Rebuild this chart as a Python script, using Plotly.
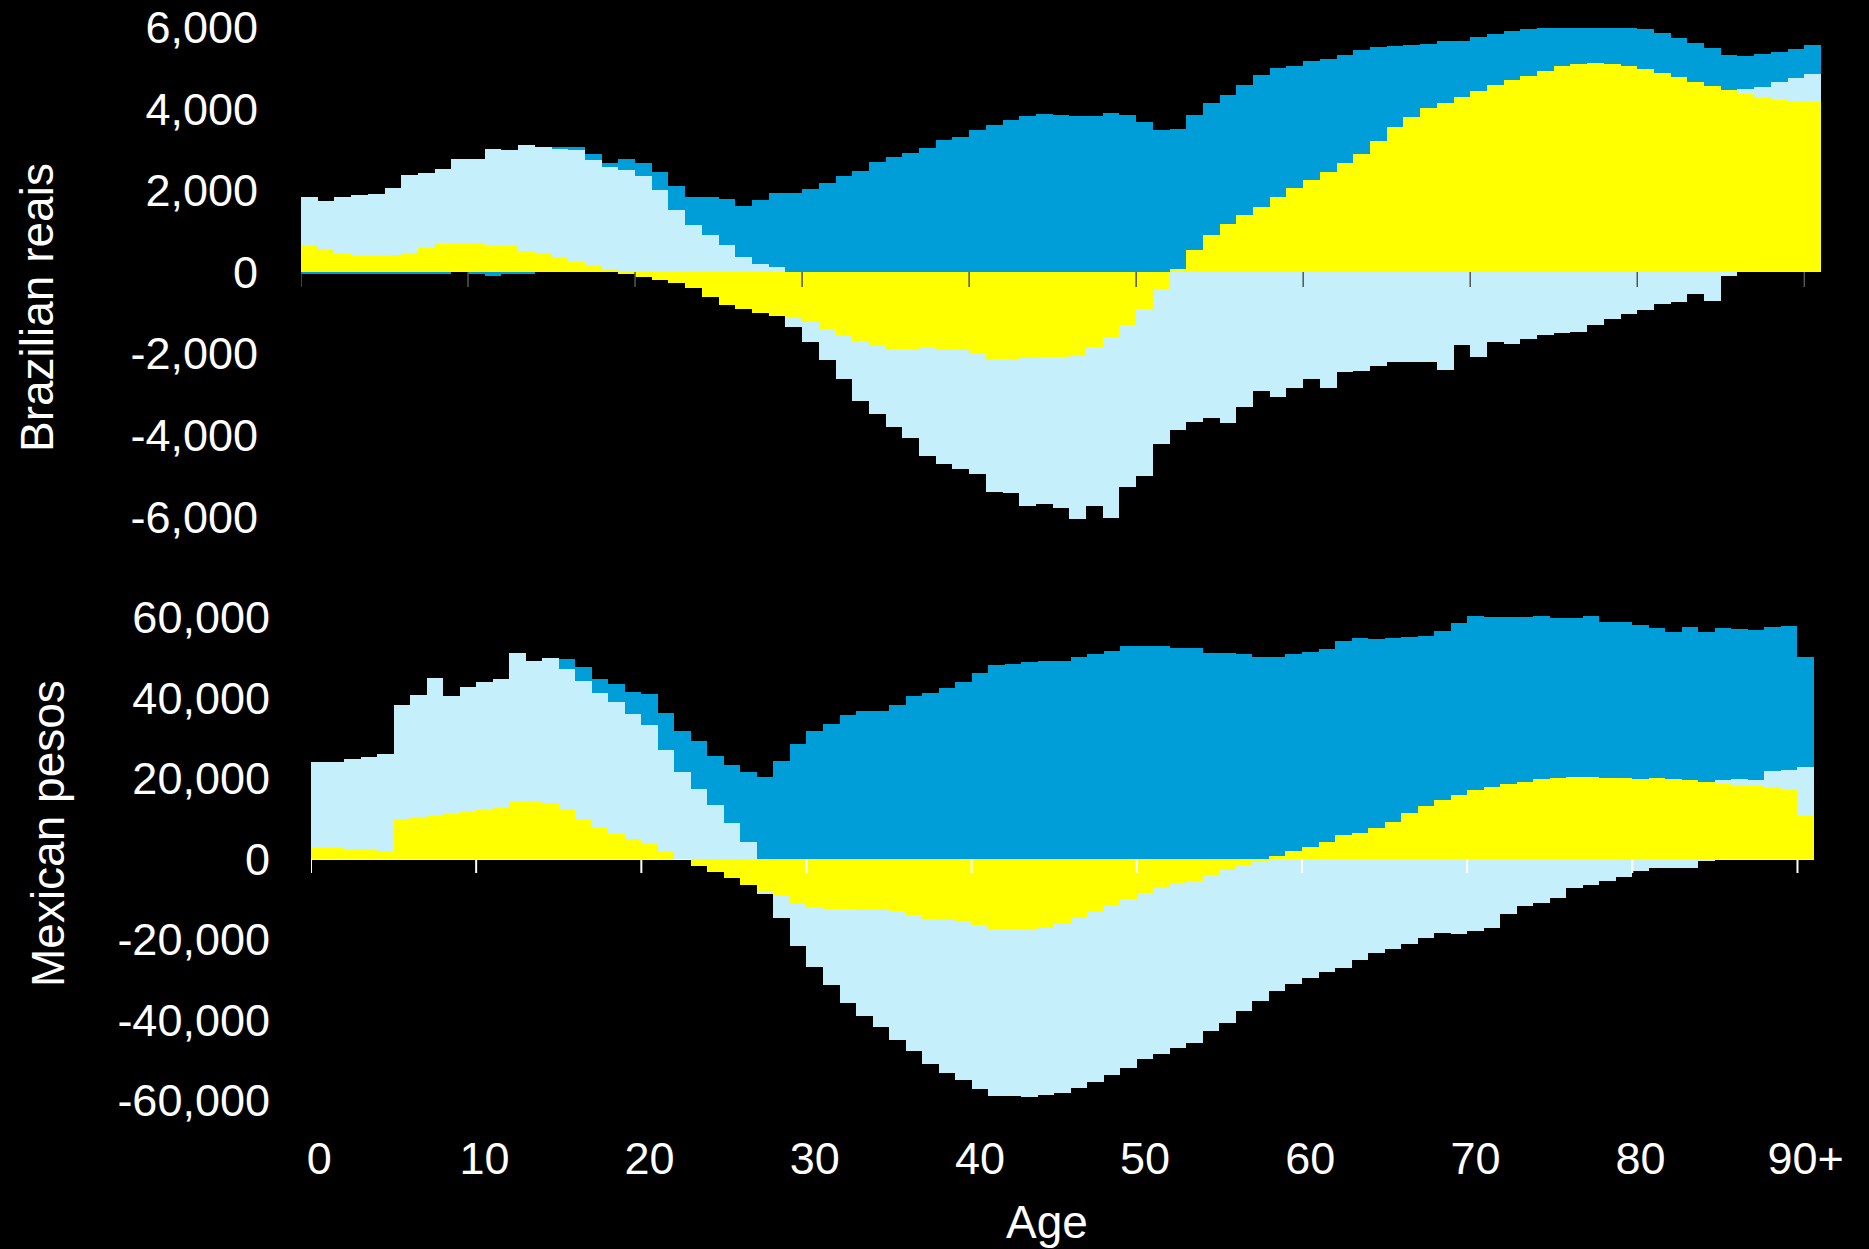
import plotly.graph_objects as go

# ---------------------------------------------------------------------------
# Data: per-capita flows by single year of age (0 ... 90+)
# ---------------------------------------------------------------------------
ages = list(range(91))
decade_ticks = list(range(0, 91, 10))
decade_labels = [str(a) for a in range(0, 90, 10)] + ["90+"]

# Brazil (reais)
br_public = [
    630, 560, 465, 395, 395, 420, 455, 595, 680, 680,
    710, 655, 630, 525, 465, 360, 235, 150, 80, -25,
    -120, -200, -270, -400, -610, -815, -910, -1005, -1085, -1120,
    -1225, -1390, -1565, -1690, -1810, -1880, -1880, -1865, -1915, -1915,
    -2005, -2120, -2125, -2100, -2085, -2090, -2055, -1845, -1595, -1305,
    -895, -405, 70, 545, 910, 1175, 1400, 1600, 1830, 2050,
    2260, 2460, 2665, 2890, 3205, 3545, 3800, 4015, 4150, 4290,
    4430, 4595, 4715, 4805, 4935, 5040, 5110, 5130, 5100, 5050,
    4970, 4885, 4770, 4655, 4560, 4470, 4375, 4290, 4220, 4185,
    4165,
]
br_private = [
    1200, 1180, 1365, 1485, 1515, 1635, 1915, 1835, 1855, 2085,
    2055, 2365, 2355, 2600, 2600, 2670, 2755, 2605, 2485, 2495,
    2345, 2020, 1525, 1140, 900, 650, 370, 185, 125, -230,
    -480, -755, -1050, -1460, -1670, -1910, -2180, -2640, -2790, -2905,
    -2950, -3270, -3280, -3640, -3610, -3685, -4010, -3885, -4425, -3965,
    -4110, -3805, -3875, -3675, -3570, -3700, -3300, -2915, -3060, -2850,
    -2625, -2835, -2450, -2425, -2300, -2205, -2195, -2195, -2405, -1785,
    -2075, -1725, -1760, -1635, -1550, -1495, -1460, -1295, -1155, -1040,
    -935, -790, -735, -545, -720, -95, 115, 255, 430, 570,
    700,
]
br_assets = [
    -25, -25, -25, -25, -25, -25, -25, -25, -25, 0,
    -55, -90, -55, -35, 0, 15, 70, 130, 95, 270,
    335, 430, 585, 700, 930, 1135, 1240, 1575, 1800, 1945,
    2030, 2170, 2345, 2485, 2685, 2820, 2905, 3045, 3245, 3310,
    3490, 3615, 3735, 3815, 3870, 3860, 3825, 3825, 3905, 3850,
    3665, 3485, 3440, 3315, 3230, 3175, 3185, 3230, 3165, 3010,
    2905, 2755, 2650, 2545, 2320, 1995, 1755, 1575, 1515, 1380,
    1330, 1235, 1180, 1145, 1050, 945, 875, 855, 885, 935,
    980, 970, 970, 965, 935, 860, 805, 795, 735, 720,
    710,
]

# Mexico (pesos)
mx_public = [
    2650, 2650, 2400, 2140, 1970, 9925, 10350, 10610, 11295, 11720,
    12235, 12575, 14285, 14460, 13860, 12065, 9580, 7615, 6330, 4960,
    3850, 1625, 0, -1625, -3165, -4790, -6500, -8300, -9155, -11295,
    -11975, -12490, -12490, -12660, -12745, -13005, -13945, -14800, -15230, -15315,
    -16425, -17450, -17450, -17365, -17025, -16170, -14715, -13260, -11720, -10010,
    -8555, -7270, -6330, -5475, -3935, -2825, -1370, -685, 770, 1970,
    3080, 4190, 5945, 6585, 7785, 9240, 11380, 13175, 14630, 15825,
    17195, 17965, 18565, 19075, 19850, 20105, 20360, 20275, 20190, 20020,
    19935, 20020, 19760, 19590, 19075, 18650, 18395, 18135, 17625, 17110,
    10780,
]
mx_private = [
    21390, 21390, 22330, 23185, 24125, 28400, 30285, 34390, 29170, 30970,
    31825, 32165, 36870, 34735, 36185, 35245, 34650, 33535, 32680, 31055,
    29345, 25580, 21645, 17365, 13345, 8895, 4105, -170, -5560, -10435,
    -14970, -18905, -23185, -26435, -28915, -31910, -33875, -36100, -37815, -39525,
    -40720, -41405, -41320, -41660, -41660, -41920, -42090, -42260, -42005, -41920,
    -41150, -41065, -40550, -40210, -38755, -37815, -36445, -34650, -32765, -30970,
    -29685, -28060, -27035, -25150, -23355, -22330, -21130, -19590, -18480, -18565,
    -17880, -17025, -13775, -11635, -11035, -9580, -7270, -6500, -5560, -4450,
    -3080, -2310, -2310, -2140, -515, 940, 1540, 1455, 4280, 5045,
    12065,
]
mx_assets = [
    0, 0, 0, 0, 0, 0, 0, 0, 0, 0,
    0, 0, 0, 0, 0, 2480, 3420, 3595, 4365, 5475,
    7870, 9070, 10180, 12060, 12320, 14460, 17625, 20445, 24465, 28660,
    31910, 33450, 35845, 36700, 36870, 38155, 40380, 41150, 42520, 44060,
    46285, 48080, 48420, 48935, 49190, 49190, 50220, 50900, 51670, 52870,
    53040, 52955, 52355, 52440, 51245, 51075, 50990, 50130, 49450, 48850,
    48335, 47995, 48165, 48250, 46880, 45770, 43885, 42345, 42090, 42860,
    43120, 42090, 41580, 41150, 40465, 39695, 39440, 40040, 38670, 38755,
    38325, 37300, 36530, 37985, 37215, 37730, 37300, 37385, 35675, 35675,
    27290,
]

br_ticks = list(range(-6000, 6001, 2000))
mx_ticks = list(range(-60000, 60001, 20000))

YELLOW = "#FFFF00"
LIGHT_BLUE = "#C6EFFC"
DARK_BLUE = "#009ED8"
FONT = "Liberation Sans, Arial, sans-serif"

# ---------------------------------------------------------------------------
# Page geometry (pixels) -> paper fractions
# ---------------------------------------------------------------------------
W, H = 1869, 1249


def fx(px):
    return px / W


def fy(py):
    return 1 - py / H


# Upper panel
TOP_L, TOP_R, TOP_T, TOP_B = 301, 1821, 0, 560
TOP_ZERO, TOP_PX_PER_UNIT = 272, 40.8 / 1000
br_range = [(TOP_ZERO - TOP_B) / TOP_PX_PER_UNIT, (TOP_ZERO - TOP_T) / TOP_PX_PER_UNIT]

# Lower panel
BOT_L, BOT_R, BOT_T, BOT_B = 311, 1814, 566, 1128
BOT_ZERO, BOT_PX_PER_UNIT = 859, 241.5 / 60000
mx_range = [(BOT_ZERO - BOT_B) / BOT_PX_PER_UNIT, (BOT_ZERO - BOT_T) / BOT_PX_PER_UNIT]

fig = go.Figure()

for xa, ya, series in (
    ("x", "y", (br_public, br_private, br_assets)),
    ("x2", "y2", (mx_public, mx_private, mx_assets)),
):
    for values, color in zip(series, (YELLOW, LIGHT_BLUE, DARK_BLUE)):
        fig.add_trace(go.Bar(
            x=ages, y=values, width=1,
            marker=dict(color=color, line=dict(width=0)),
            xaxis=xa, yaxis=ya, showlegend=False, hoverinfo="x+y",
        ))

tick_font = dict(family=FONT, size=45, color="white")

fig.update_layout(
    width=W, height=H, autosize=False, showlegend=False,
    margin=dict(l=0, r=0, t=0, b=0, pad=0, autoexpand=False),
    paper_bgcolor="black", plot_bgcolor="black",
    barmode="relative", bargap=0,
    font=dict(family=FONT, color="white"),
    xaxis=dict(
        domain=[fx(TOP_L), fx(TOP_R)], range=[-0.5, 90.5], anchor="y",
        showgrid=False, zeroline=False, showline=False,
        showticklabels=False, ticks="", automargin=False,
    ),
    yaxis=dict(
        domain=[fy(TOP_B), fy(TOP_T)], range=br_range, anchor="x",
        tickvals=br_ticks, ticktext=[f"{v:,}" for v in br_ticks],
        tickfont=tick_font, ticks="", ticklabelstandoff=42,
        showgrid=False, showline=False, automargin=False,
        zeroline=True, zerolinecolor="black", zerolinewidth=1.5,
        layer="above traces",
    ),
    xaxis2=dict(
        domain=[fx(BOT_L), fx(BOT_R)], range=[-0.5, 90.5], anchor="y2",
        tickvals=decade_ticks, ticktext=decade_labels,
        tickfont=tick_font, ticks="", ticklabelstandoff=0,
        showgrid=False, zeroline=False, showline=False, automargin=False,
    ),
    yaxis2=dict(
        domain=[fy(BOT_B), fy(BOT_T)], range=mx_range, anchor="x2",
        tickvals=mx_ticks, ticktext=[f"{v:,}" for v in mx_ticks],
        tickfont=tick_font, ticks="", ticklabelstandoff=40,
        showgrid=False, showline=False, automargin=False,
        zeroline=True, zerolinecolor="white", zerolinewidth=2,
        layer="above traces",
    ),
)

# Decade tick marks hanging from each zero line, at the bar boundaries
shapes = []
for a in decade_ticks:
    shapes.append(dict(
        type="line", xref="x", yref="paper",
        x0=a - 0.5, x1=a - 0.5, y0=fy(TOP_ZERO), y1=fy(TOP_ZERO + 15),
        line=dict(color="#555555", width=1.5),
    ))
    shapes.append(dict(
        type="line", xref="x2", yref="paper",
        x0=a - 0.5, x1=a - 0.5, y0=fy(BOT_ZERO), y1=fy(BOT_ZERO + 14),
        line=dict(color="white", width=2),
    ))
fig.update_layout(shapes=shapes)

title_font = dict(family=FONT, size=46, color="white")
fig.update_layout(annotations=[
    dict(text="Brazilian reais", x=fx(37), y=fy(308), xref="paper", yref="paper",
         textangle=-90, showarrow=False, font=title_font,
         xanchor="center", yanchor="middle"),
    dict(text="Mexican pesos", x=fx(48), y=fy(834), xref="paper", yref="paper",
         textangle=-90, showarrow=False, font=title_font,
         xanchor="center", yanchor="middle"),
    dict(text="Age", x=fx(1047), y=fy(1222), xref="paper", yref="paper",
         showarrow=False, font=title_font, xanchor="center", yanchor="middle"),
])

fig.write_html("out.html", config={"responsive": False})
